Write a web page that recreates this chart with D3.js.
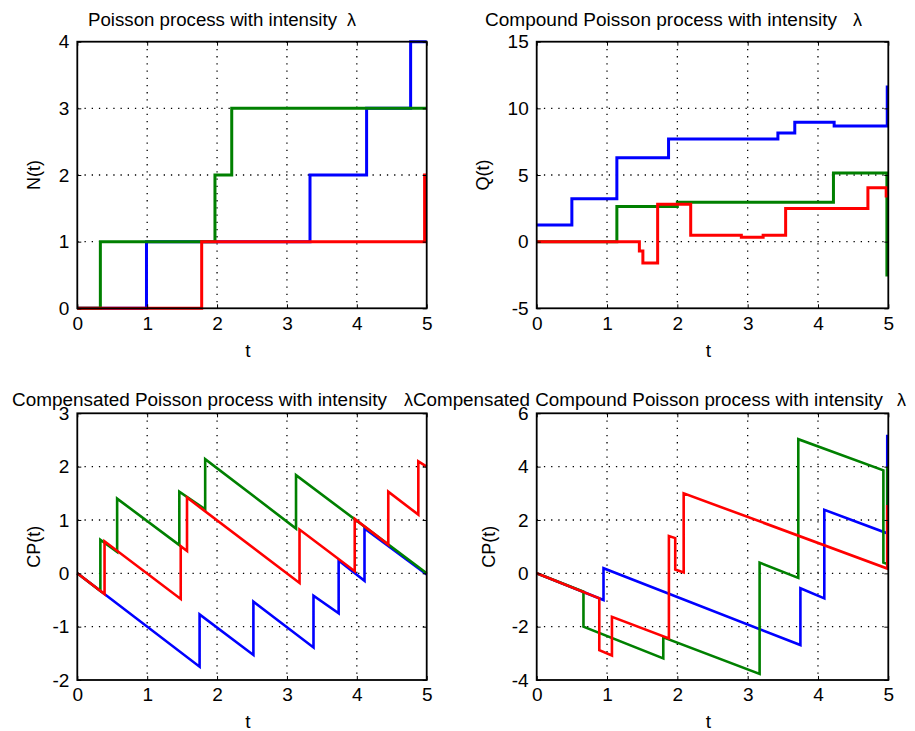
<!DOCTYPE html>
<html>
<head>
<meta charset="utf-8">
<script src="https://cdn.jsdelivr.net/npm/d3@7"></script>
<style>
  html, body { margin: 0; padding: 0; background: #fff; }
  svg { display: block; font-family: "Liberation Sans", Arial, Helvetica, sans-serif; }
</style>
</head>
<body>
<svg id="chart" width="915" height="731"></svg>
<script>
const xTicks = [0, 1, 2, 3, 4, 5];
const seriesColors = ["#0000ff", "#008000", "#ff0000"];

// Poisson process N(t): jump times and levels after each jump
const nBlueTimes = [0, 0.99, 3.33, 4.14, 4.77];
const nBlueLevels = [0, 1, 2, 3, 4];
const nGreenTimes = [0, 0.33, 1.97, 2.21];
const nGreenLevels = [0, 1, 2, 3];
const nRedTimes = [0, 1.78, 4.97];
const nRedLevels = [0, 1, 2];

// Compound Poisson process Q(t)
const qBlueTimes = [0, 0.5, 1.14, 1.875, 3.43, 3.67, 4.23, 4.985];
const qBlueLevels = [1.25, 3.22, 6.3, 7.7, 8.15, 8.95, 8.68, 11.6];
const qGreenTimes = [0, 1.14, 2.0, 4.22, 4.98];
const qGreenLevels = [0, 2.63, 2.95, 5.15, -2.5];
const qRedTimes = [0, 1.46, 1.51, 1.72, 2.19, 2.91, 3.22, 3.54, 4.71, 4.97];
const qRedLevels = [0, -0.7, -1.6, 2.8, 0.48, 0.33, 0.48, 2.48, 4.05, 3.43];

// Compensated Poisson process CP(t): [t, value] vertices
const cpBlue = [[0, 0], [1.75, -1.75], [1.75, -0.77], [2.52, -1.53], [2.52, -0.53], [3.38, -1.39],
  [3.38, -0.42], [3.74, -0.75], [3.74, 0.24], [4.11, -0.14], [4.11, 0.84], [5, -0.02]];
const cpGreen = [[0, 0], [0.33, -0.33], [0.33, 0.63], [0.57, 0.4], [0.57, 1.4], [1.46, 0.53],
  [1.46, 1.53], [1.83, 1.2], [1.83, 2.14], [3.13, 0.84], [3.13, 1.84], [5, 0.0]];
const cpRed = [[0, 0], [0.39, -0.39], [0.39, 0.6], [1.48, -0.48], [1.48, 0.51], [1.57, 0.42],
  [1.57, 1.42], [3.18, -0.18], [3.18, 0.82], [3.97, 0.04], [3.97, 1.02], [4.45, 0.54],
  [4.45, 1.53], [4.88, 1.1], [4.88, 2.1], [5, 2.0]];

// Compensated compound Poisson process
const ccpBlue = [[0, 0], [0.95, -1.0], [0.95, 0.19], [3.75, -2.69], [3.75, -0.56], [4.09, -0.94],
  [4.09, 2.38], [4.985, 1.5], [4.985, 5.2]];
const ccpGreen = [[0, 0], [0.665, -0.69], [0.665, -2.0], [1.8, -3.19], [1.8, -2.4], [3.17, -3.77],
  [3.17, 0.4], [3.72, -0.17], [3.72, 5.03], [4.93, 3.86], [4.93, 0.4], [4.985, 0.35], [4.985, 4.0]];
const ccpRed = [[0, 0], [0.89, -0.94], [0.89, -2.88], [1.07, -3.08], [1.07, -1.63], [1.88, -2.44],
  [1.88, 1.4], [1.97, 1.32], [1.97, 0.14], [2.09, 0.03], [2.09, 3.0], [4.985, 0.18], [4.985, 2.56]];

const stepPoints = (times, levels) =>
  times.map((t, i) => [t, levels[i]]).concat([[5, levels[levels.length - 1]]]);

const panels = [
  {
    box: [77.3, 41.7, 426.7, 308.3], yDomain: [0, 4], yTicks: [0, 1, 2, 3, 4],
    title: "Poisson process with intensity", titleX: 88, titleEnd: 337, lambdaX: 347, titleY: 26,
    yLabel: "N(t)", yLabelX: 40, xLabelY: 357, step: true, lineWidth: 3,
    series: [stepPoints(nBlueTimes, nBlueLevels), stepPoints(nGreenTimes, nGreenLevels), stepPoints(nRedTimes, nRedLevels)]
  },
  {
    box: [536.7, 41.7, 888.3, 308.3], yDomain: [-5, 15], yTicks: [-5, 0, 5, 10, 15],
    title: "Compound Poisson process with intensity", titleX: 485, titleEnd: 837, lambdaX: 853, titleY: 26,
    yLabel: "Q(t)", yLabelX: 488.5, xLabelY: 357, step: true, lineWidth: 3,
    series: [stepPoints(qBlueTimes, qBlueLevels), stepPoints(qGreenTimes, qGreenLevels), stepPoints(qRedTimes, qRedLevels)]
  },
  {
    box: [77.3, 413.3, 426.7, 680], yDomain: [-2, 3], yTicks: [-2, -1, 0, 1, 2, 3],
    title: "Compensated Poisson process with intensity", titleX: 12, titleEnd: 387, lambdaX: 404, titleY: 406,
    yLabel: "CP(t)", yLabelX: 40, xLabelY: 728, step: false, lineWidth: 2.6,
    series: [cpBlue, cpGreen, cpRed]
  },
  {
    box: [536.7, 413.3, 888.3, 680], yDomain: [-4, 6], yTicks: [-4, -2, 0, 2, 4, 6],
    title: "Compensated Compound Poisson process with intensity", titleX: 413, titleEnd: 883, lambdaX: 897, titleY: 406,
    yLabel: "CP(t)", yLabelX: 495, xLabelY: 728, step: false, lineWidth: 2.6,
    series: [ccpBlue, ccpGreen, ccpRed]
  }
];

const svg = d3.select("#chart");
const plainNumber = d => String(d);

const drawPanel = (p) => {
  const [x0, y0, x1, y1] = p.box;
  const x = d3.scaleLinear().domain([0, 5]).range([x0, x1]);
  const y = d3.scaleLinear().domain(p.yDomain).range([y1, y0]);
  const g = svg.append("g");

  // dotted grid
  g.append("g")
    .selectAll("line")
    .data(xTicks.slice(1, -1))
    .join("line")
    .attr("x1", d => x(d)).attr("x2", d => x(d))
    .attr("y1", y0).attr("y2", y1)
    .attr("stroke", "#000").attr("stroke-width", 1.3)
    .attr("stroke-dasharray", "1.3,5.9");
  g.append("g")
    .selectAll("line")
    .data(p.yTicks.slice(1, -1))
    .join("line")
    .attr("x1", x0).attr("x2", x1)
    .attr("y1", d => y(d)).attr("y2", d => y(d))
    .attr("stroke", "#000").attr("stroke-width", 1.3)
    .attr("stroke-dasharray", "1.3,5.9");

  const line = d3.line()
    .x(d => x(d[0]))
    .y(d => y(d[1]));
  if (p.step) line.curve(d3.curveStepAfter);

  g.append("g")
    .selectAll("path")
    .data(p.series)
    .join("path")
    .attr("d", line)
    .attr("fill", "none")
    .attr("stroke", (d, i) => seriesColors[i])
    .attr("stroke-width", p.lineWidth)
    .attr("stroke-linejoin", "miter");

  // axes with short inward ticks
  const tickLen = 4;
  const xAxisB = d3.axisBottom(x).tickValues(xTicks).tickSize(-tickLen).tickPadding(8).tickFormat(plainNumber);
  const xAxisT = d3.axisTop(x).tickValues(xTicks).tickSize(-tickLen).tickFormat("");
  const yAxisL = d3.axisLeft(y).tickValues(p.yTicks).tickSize(-tickLen).tickPadding(8).tickFormat(plainNumber);
  const yAxisR = d3.axisRight(y).tickValues(p.yTicks).tickSize(-tickLen).tickFormat("");

  [[xAxisB, `translate(0,${y1})`], [xAxisT, `translate(0,${y0})`],
   [yAxisL, `translate(${x0},0)`], [yAxisR, `translate(${x1},0)`]].forEach(([ax, tr]) => {
    const a = g.append("g").attr("transform", tr).call(ax);
    a.select(".domain").remove();
    a.selectAll(".tick line").attr("stroke", "#000").attr("stroke-width", 1);
    a.selectAll("text")
      .attr("fill", "#000")
      .attr("font-size", 19)
      .attr("font-family", "'Liberation Sans', Arial, sans-serif");
  });

  g.append("rect")
    .attr("x", x0).attr("y", y0)
    .attr("width", x1 - x0).attr("height", y1 - y0)
    .attr("fill", "none")
    .attr("stroke", "#000")
    .attr("stroke-width", 1.8);

  // title, lambda set apart as in the original
  const title = g.append("text")
    .attr("y", p.titleY)
    .attr("font-size", 18)
    .attr("fill", "#000");
  title.append("tspan")
    .attr("x", p.titleX)
    .attr("textLength", p.titleEnd - p.titleX)
    .attr("lengthAdjust", "spacingAndGlyphs")
    .text(p.title);
  title.append("tspan")
    .attr("x", p.lambdaX)
    .text("λ");

  g.append("text")
    .attr("transform", `translate(${p.yLabelX},${(y0 + y1) / 2}) rotate(-90)`)
    .attr("text-anchor", "middle")
    .attr("font-size", 18)
    .attr("fill", "#000")
    .text(p.yLabel);

  g.append("text")
    .attr("x", (x0 + x1) / 2 - 4)
    .attr("y", p.xLabelY)
    .attr("text-anchor", "middle")
    .attr("font-size", 19)
    .attr("fill", "#000")
    .text("t");
};

panels.forEach(drawPanel);
</script>
</body>
</html>
